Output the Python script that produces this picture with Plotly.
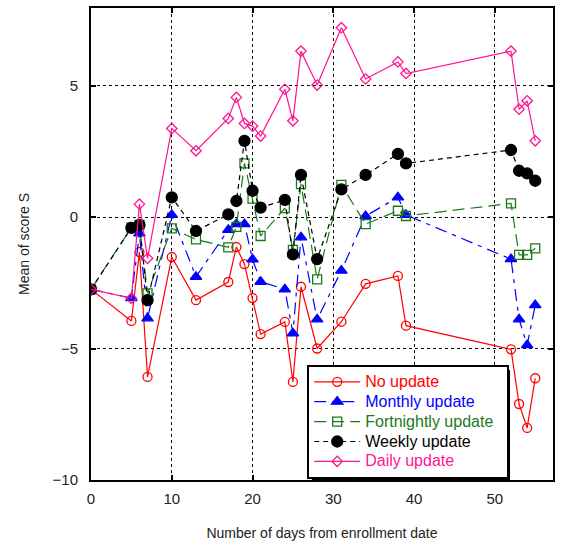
import plotly.graph_objects as go

days = [0, 5, 6, 7, 10, 13, 17, 18, 19, 20, 21, 24, 25, 26, 28, 31, 34, 38, 39, 52, 53, 54, 55]

no_update = [-2.75, -3.95, -1.33, -6.08, -1.52, -3.16, -2.47, -1.14, -1.79, -3.08, -4.45,
             -3.99, -6.27, -2.65, -5.0, -3.98, -2.54, -2.24, -4.13, -5.03, -7.11, -8.02, -6.13]
monthly = [-2.75, -3.08, -0.62, -3.85, 0.08, -2.27, -0.49, -0.27, -0.27, -1.61, -2.46,
           -2.75, -4.42, -0.77, -3.89, -2.04, 0.04, 0.75, 0.08, -1.6, -3.89, -4.87, -3.35]
fortnightly = [-2.75, -0.4, -0.3, -2.9, -0.43, -0.85, -1.15, -0.37, 2.04, 0.7, -0.72,
               0.34, -1.25, 1.25, -2.37, 1.22, -0.27, 0.24, 0.04, 0.52, -1.44, -1.44, -1.19]
weekly = [-2.75, -0.41, -0.3, -3.16, 0.75, -0.53, 0.1, 0.61, 2.9, 1.0, 0.36,
          0.65, -1.42, 1.6, -1.6, 1.05, 1.6, 2.4, 2.04, 2.55, 1.76, 1.66, 1.38]
daily = [-2.75, -3.09, 0.49, -1.57, 3.37, 2.52, 3.75, 4.55, 3.56, 3.46, 3.08,
         4.86, 3.66, 6.31, 5.02, 7.2, 5.25, 5.9, 5.46, 6.31, 4.1, 4.42, 2.9]

series = [
    ("No update", no_update, "#ff0000", "solid", "circle-open", 9, 1.2),
    ("Monthly update", monthly, "#0000ff", "12px,6px,4px,6px", "triangle-up", 10, 1.2),
    ("Fortnightly update", fortnightly, "#1a7a1a", "12px,6px", "square-open", 9, 1.2),
    ("Weekly update", weekly, "#000000", "5px,4px", "circle", 11, 1.2),
    ("Daily update", daily, "#ff1493", "solid", "diamond-open", 8, 1.2),
]

FONT = "Liberation Sans, Arial"

fig = go.Figure()
for name, vals, col, dash, sym, size, lw in series:
    fig.add_trace(go.Scatter(
        x=days, y=vals, mode="lines+markers",
        name=f"<span style='color:{col};font-size:16px'>{name}&nbsp;&nbsp;</span>",
        line=dict(color=col, dash=dash, width=lw),
        marker=dict(symbol=sym, size=size, color=col, line=dict(color=col, width=1.3)),
    ))

axis_common = dict(
    showline=True, linecolor="black", linewidth=2, mirror="ticks",
    ticks="inside", ticklen=5, tickcolor="black", tickwidth=1.5,
    showgrid=True, gridcolor="black", griddash="dot", gridwidth=1,
    zeroline=False,
    tickfont=dict(family=FONT, size=15, color="#222"),
)

fig.update_xaxes(range=[0, 57.2], tickvals=[0, 10, 20, 30, 40, 50],
                 ticklabelstandoff=4,
                 title=dict(text="Number of days from enrollment date", standoff=22,
                            font=dict(family=FONT, size=14, color="#222")),
                 **axis_common)
fig.update_yaxes(range=[-10, 7.95], tickvals=[-10, -5, 0, 5],
                 ticklabelstandoff=8,
                 title=dict(text="Mean of score S", standoff=20,
                            font=dict(family=FONT, size=14, color="#222")),
                 **axis_common)

# legend shadow
fig.add_shape(type="rect", xref="paper", yref="paper",
              x0=0.478, x1=0.907, y0=0.0, y1=0.233,
              fillcolor="black", line=dict(width=0), layer="below")

fig.update_layout(
    width=561, height=545,
    margin=dict(l=91, r=6, t=8, b=65),
    plot_bgcolor="white", paper_bgcolor="white",
    showlegend=True,
    legend=dict(
        x=0.468, y=0.244, xanchor="left", yanchor="top",
        bgcolor="white", bordercolor="black", borderwidth=2,
        font=dict(family=FONT, size=13),
        tracegroupgap=0, itemwidth=46,
    ),
)

fig.write_html("out.html")
